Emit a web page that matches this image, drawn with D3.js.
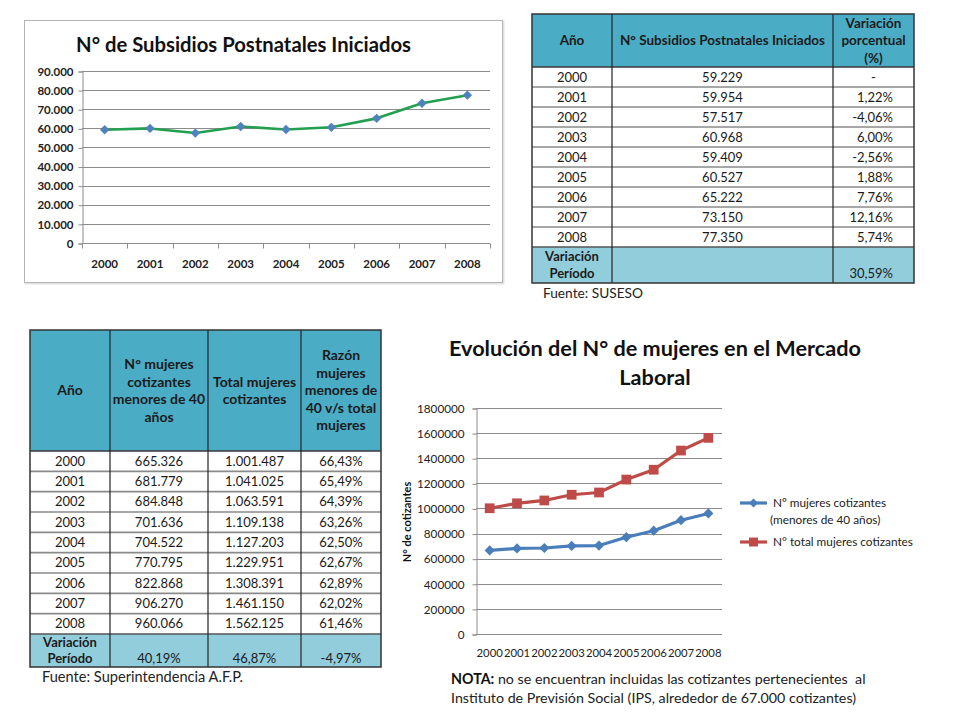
<!DOCTYPE html>
<html><head><meta charset="utf-8">
<script src="https://cdn.jsdelivr.net/npm/d3@7"></script>
<style>
body{margin:0;background:#fff}
svg{display:block}
text{font-family:Lato,"Open Sans",sans-serif}
</style>
</head><body>
<svg id="c" width="960" height="720"></svg>
<script>
// ---------- DATA ----------
const years = ["2000","2001","2002","2003","2004","2005","2006","2007","2008"];
const subsidios = [59229, 59954, 57517, 60968, 59409, 60527, 65222, 73150, 77350];
const subsidiosVar = ["-", "1,22%", "-4,06%", "6,00%", "-2,56%", "1,88%", "7,76%", "12,16%", "5,74%"];
const subsidiosVarPeriodo = "30,59%";
const mujeresMenores40 = [665326, 681779, 684848, 701636, 704522, 770795, 822868, 906270, 960066];
const mujeresTotal = [1001487, 1041025, 1063591, 1109138, 1127203, 1229951, 1308391, 1461150, 1562125];
const razon = ["66,43%", "65,49%", "64,39%", "63,26%", "62,50%", "62,67%", "62,89%", "62,02%", "61,46%"];
const variacionPeriodo2 = ["40,19%", "46,87%", "-4,97%"];
const ticks1 = [0, 10000, 20000, 30000, 40000, 50000, 60000, 70000, 80000, 90000];
const ticks2 = [0, 200000, 400000, 600000, 800000, 1000000, 1200000, 1400000, 1600000, 1800000];
const title1 = "N° de Subsidios Postnatales Iniciados";
const title2 = ["Evolución del N° de mujeres en el Mercado", "Laboral"];
const legend2 = [["Nº mujeres cotizantes", "(menores de 40 años)"], ["N° total mujeres cotizantes"]];
const header1 = [["Año"], ["N° Subsidios Postnatales Iniciados"], ["Variación", "porcentual", "(%)"]];
const header2 = [["Año"], ["N° mujeres", "cotizantes", "menores de 40", "años"], ["Total mujeres", "cotizantes"], ["Razón", "mujeres", "menores de", "40 v/s total", "mujeres"]];

// ---------- HELPERS ----------
const loc = d3.formatLocale({decimal: ",", thousands: ".", grouping: [3], currency: ["$", ""]});
const fmtDot = loc.format(",d");
const svg = d3.select("#c");

function fitText(sel, target) {
  const n = sel.node();
  const fs = parseFloat(sel.attr("font-size"));
  const w = n.getComputedTextLength();
  if (w > 0) sel.attr("font-size", (fs * target / w).toFixed(2));
  return parseFloat(sel.attr("font-size"));
}

const diamond = (s) => d3.symbol(d3.symbolSquare, s);

// ---------- CHART 1 ----------
const g1 = svg.append("g");
g1.append("rect").attr("x", 25.5).attr("y", 21.5).attr("width", 478).attr("height", 262)
  .attr("fill", "none").attr("stroke", "#e2e2e2").attr("stroke-width", 2);
g1.append("rect").attr("x", 24.5).attr("y", 20.5).attr("width", 478).attr("height", 262)
  .attr("fill", "#fff").attr("stroke", "#b4b4b4").attr("stroke-width", 1);

const t1 = g1.append("text").attr("x", 243.5).attr("y", 52).attr("text-anchor", "middle")
  .attr("font-size", 18).attr("font-weight", "bold").attr("fill", "#111").text(title1);
fitText(t1, 335);

const x1 = d3.scaleBand().domain(years).range([82, 490]);
const y1 = d3.scaleLinear().domain([0, 90000]).range([243, 71]);

g1.append("g").selectAll("line").data(ticks1.slice(1)).join("line")
  .attr("x1", 82).attr("x2", 490).attr("y1", d => Math.round(y1(d)) + 0.5).attr("y2", d => Math.round(y1(d)) + 0.5)
  .attr("stroke", "#8c8c8c");

const ya1 = g1.append("g").attr("transform", "translate(82.5,0.5)")
  .call(d3.axisLeft(y1).tickValues(ticks1).tickSize(4).tickPadding(5).tickFormat(fmtDot));
ya1.selectAll("path,line").attr("stroke", "#8c8c8c");
ya1.selectAll("text").attr("font-size", 11.5).attr("font-weight", "bold").attr("fill", "#222")
  .attr("font-family", "Lato");

const xa1 = g1.append("g").attr("transform", "translate(0," + (Math.round(y1(0)) + 0.5) + ")");
xa1.append("line").attr("x1", 82).attr("x2", 490).attr("stroke", "#8c8c8c");
xa1.selectAll("line.tk").data(years.concat(["end"])).join("line").attr("class", "tk")
  .attr("x1", (d, i) => Math.round(i < years.length ? x1(d) : x1.range()[1]) + 0.5)
  .attr("x2", (d, i) => Math.round(i < years.length ? x1(d) : x1.range()[1]) + 0.5)
  .attr("y1", 0).attr("y2", 5).attr("stroke", "#8c8c8c");
xa1.selectAll("text").data(years).join("text")
  .attr("x", d => x1(d) + x1.bandwidth() / 2).attr("y", 24).attr("text-anchor", "middle")
  .attr("font-size", 11.5).attr("font-weight", "bold").attr("fill", "#222").text(d => d);

const line1 = d3.line().x((d, i) => x1(years[i]) + x1.bandwidth() / 2).y(d => y1(d));
g1.append("path").datum(subsidios).attr("d", line1).attr("fill", "none")
  .attr("stroke", "#22a04f").attr("stroke-width", 2.6).attr("stroke-linejoin", "round");
g1.append("g").selectAll("path").data(subsidios).join("path")
  .attr("d", diamond(44))
  .attr("transform", (d, i) => `translate(${x1(years[i]) + x1.bandwidth() / 2},${y1(d)}) rotate(45)`)
  .attr("fill", "#4f81bd");

// ---------- TABLE helper ----------
function drawTable(cfg) {
  const g = svg.append("g");
  const cols = cfg.cols;
  const L = cols[0], R = cols[cols.length - 1];
  const rowY = d3.scaleBand().domain(years).range([cfg.headerBottom, cfg.footerTop]);
  g.append("rect").attr("x", L).attr("y", cfg.top).attr("width", R - L).attr("height", cfg.headerBottom - cfg.top).attr("fill", "#4bacc6");
  g.append("rect").attr("x", L).attr("y", cfg.headerBottom).attr("width", R - L).attr("height", cfg.footerTop - cfg.headerBottom).attr("fill", "#fff");
  g.append("rect").attr("x", L).attr("y", cfg.footerTop).attr("width", R - L).attr("height", cfg.bottom - cfg.footerTop).attr("fill", "#92cddc");
  g.selectAll("line.h").data(years.slice(1)).join("line").attr("class", "h")
    .attr("x1", L).attr("x2", R).attr("y1", d => rowY(d)).attr("y2", d => rowY(d))
    .attr("stroke", "#8a8a8a").attr("stroke-width", 1.6);
  g.append("line").attr("x1", L).attr("x2", R).attr("y1", cfg.headerBottom).attr("y2", cfg.headerBottom).attr("stroke", "#3a3a3a").attr("stroke-width", 1.3);
  g.append("line").attr("x1", L).attr("x2", R).attr("y1", cfg.footerTop).attr("y2", cfg.footerTop).attr("stroke", "#555").attr("stroke-width", 1.6);
  g.selectAll("line.v").data(cols.slice(1, -1)).join("line").attr("class", "v")
    .attr("x1", d => d).attr("x2", d => d).attr("y1", cfg.top).attr("y2", cfg.bottom)
    .attr("stroke", "#222").attr("stroke-width", 1.2);
  g.append("rect").attr("x", L).attr("y", cfg.top).attr("width", R - L).attr("height", cfg.bottom - cfg.top)
    .attr("fill", "none").attr("stroke", "#333").attr("stroke-width", 1.5);
  const hMid = (cfg.top + cfg.headerBottom) / 2;
  cfg.header.forEach((lines, ci) => {
    const cx = (cols[ci] + cols[ci + 1]) / 2;
    lines.forEach((t, li) => {
      g.append("text").attr("x", cx).attr("y", hMid + (li - (lines.length - 1) / 2) * cfg.hLine)
        .attr("dy", "0.35em").attr("text-anchor", "middle").attr("font-size", cfg.hSize)
        .attr("font-weight", "bold").attr("fill", "#1b1b1b").text(t);
    });
  });
  cfg.columns.forEach((colVals, ci) => {
    g.append("g").selectAll("text").data(colVals).join("text")
      .attr("x", (d, i) => cfg.align(ci, d) === "end" ? cfg.rightX[ci] : (cols[ci] + cols[ci + 1]) / 2)
      .attr("text-anchor", d => cfg.align(ci, d))
      .attr("y", (d, i) => rowY(years[i]) + rowY.bandwidth() / 2).attr("dy", "0.35em")
      .attr("font-size", cfg.bSize).attr("fill", "#1b1b1b").text(d => d);
  });
  const fMid = (cfg.footerTop + cfg.bottom) / 2;
  ["Variación", "Período"].forEach((t, li) => {
    g.append("text").attr("x", (cols[0] + cols[1]) / 2).attr("y", fMid + (li - 0.5) * cfg.fLine).attr("dy", "0.35em")
      .attr("text-anchor", "middle").attr("font-size", cfg.fSize).attr("font-weight", "bold").attr("fill", "#1b1b1b").text(t);
  });
  cfg.footer.forEach((t, k) => {
    const ci = k + 1;
    if (!t) return;
    const a = cfg.align(ci, t);
    g.append("text").attr("x", a === "end" ? cfg.rightX[ci] : (cols[ci] + cols[ci + 1]) / 2)
      .attr("y", fMid + 0.5 * cfg.fLine).attr("dy", "0.35em").attr("text-anchor", a)
      .attr("font-size", cfg.bSize).attr("fill", "#1b1b1b").text(t);
  });
  const src = g.append("text").attr("x", cfg.srcX).attr("y", cfg.bottom + 10).attr("dy", "0.35em")
    .attr("font-size", 13).attr("fill", "#222").text(cfg.source);
  fitText(src, cfg.srcW);
}

// ---------- TABLE 1 ----------
drawTable({
  cols: [532, 612, 833, 914], top: 14, headerBottom: 67, footerTop: 247, bottom: 283,
  header: header1, hLine: 17.5, hSize: 13.5, bSize: 13, fSize: 13, fLine: 17,
  columns: [years, subsidios.map(fmtDot), subsidiosVar],
  footer: ["", subsidiosVarPeriodo],
  align: (ci, d) => (ci === 2 && d !== "-") ? "end" : "middle",
  rightX: [0, 0, 893],
  srcX: 543, srcW: 100, source: "Fuente: SUSESO"
});

// ---------- TABLE 2 ----------
drawTable({
  cols: [30, 110, 208, 301, 381], top: 330, headerBottom: 451, footerTop: 634, bottom: 667,
  header: header2, hLine: 17.5, hSize: 14, bSize: 13, fSize: 13, fLine: 16,
  columns: [years, mujeresMenores40.map(fmtDot), mujeresTotal.map(fmtDot), razon],
  footer: variacionPeriodo2,
  align: () => "middle",
  rightX: [0, 0, 0, 0],
  srcX: 42, srcW: 201, source: "Fuente: Superintendencia A.F.P."
});

// ---------- CHART 2 ----------
const g2 = svg.append("g");
const tt = g2.append("text").attr("x", 655).attr("y", 356).attr("text-anchor", "middle").attr("font-size", 20)
  .attr("font-weight", "bold").attr("fill", "#111").text(title2[0]);
const tfs = fitText(tt, 412);
g2.append("text").attr("x", 655).attr("y", 384.5).attr("text-anchor", "middle").attr("font-size", tfs)
  .attr("font-weight", "bold").attr("fill", "#111").text(title2[1]);

const x2 = d3.scaleBand().domain(years).range([476, 722]);
const y2 = d3.scaleLinear().domain([0, 1800000]).range([634, 408]);

g2.append("g").selectAll("line").data(ticks2.slice(1)).join("line")
  .attr("x1", 476).attr("x2", 722).attr("y1", d => Math.round(y2(d)) + 0.5).attr("y2", d => Math.round(y2(d)) + 0.5)
  .attr("stroke", "#8c8c8c");
const ya2 = g2.append("g").attr("transform", "translate(476.5,0.5)")
  .call(d3.axisLeft(y2).tickValues(ticks2).tickSize(4).tickPadding(8).tickFormat(d3.format("d")));
ya2.selectAll("path,line").attr("stroke", "#8c8c8c");
ya2.selectAll("text").attr("font-size", 11.7).attr("fill", "#222").attr("font-family", "Lato");
g2.append("line").attr("x1", 476).attr("x2", 722).attr("y1", Math.round(y2(0)) + 0.5).attr("y2", Math.round(y2(0)) + 0.5).attr("stroke", "#8c8c8c");
g2.append("g").selectAll("text").data(years).join("text")
  .attr("x", d => x2(d) + x2.bandwidth() / 2).attr("y", y2(0) + 19).attr("dy", "0.35em")
  .attr("text-anchor", "middle").attr("font-size", 11.3).attr("fill", "#222").text(d => d);

g2.append("text").attr("transform", "translate(411,522) rotate(-90)").attr("text-anchor", "middle")
  .attr("font-size", 11).attr("font-weight", "bold").attr("fill", "#111").text("N° de cotizantes");

const cx2 = (d, i) => x2(years[i]) + x2.bandwidth() / 2;
const line2 = d3.line().x(cx2).y(d => y2(d));
const series = [
  {vals: mujeresMenores40, color: "#4a7ebb", sym: "diamond"},
  {vals: mujeresTotal, color: "#be4b48", sym: "square"}
];
series.forEach(s => {
  g2.append("path").datum(s.vals).attr("d", line2).attr("fill", "none")
    .attr("stroke", s.color).attr("stroke-width", 3.2).attr("stroke-linejoin", "round");
  g2.append("g").selectAll("path").data(s.vals).join("path")
    .attr("d", s.sym === "diamond" ? diamond(52) : d3.symbol(d3.symbolSquare, 95))
    .attr("transform", (d, i) => `translate(${cx2(d, i)},${y2(d)})` + (s.sym === "diamond" ? " rotate(45)" : ""))
    .attr("fill", s.color);
});

// legend
const legY = [503, 542];
series.forEach((s, k) => {
  g2.append("line").attr("x1", 740).attr("x2", 767).attr("y1", legY[k]).attr("y2", legY[k])
    .attr("stroke", s.color).attr("stroke-width", 3.2);
  g2.append("path").attr("d", s.sym === "diamond" ? diamond(40) : d3.symbol(d3.symbolSquare, 80))
    .attr("transform", `translate(753.5,${legY[k]})` + (s.sym === "diamond" ? " rotate(45)" : ""))
    .attr("fill", s.color);
  legend2[k].forEach((t, li) => {
    g2.append("text").attr("x", li === 0 ? 773 : 770).attr("y", legY[k] + li * 17).attr("dy", "0.35em")
      .attr("font-size", 11.8).attr("fill", "#222").text(t);
  });
});

// note
const n2 = g2.append("text").attr("x", 451).attr("y", 703).attr("font-size", 13).attr("fill", "#222")
  .text("Instituto de Previsión Social (IPS, alrededor de 67.000 cotizantes)");
const nfs = fitText(n2, 405);
const n1 = g2.append("text").attr("x", 451).attr("y", 684).attr("font-size", nfs).attr("fill", "#222");
n1.append("tspan").attr("font-weight", "bold").attr("fill", "#111").text("NOTA:");
n1.append("tspan").text(" no se encuentran incluidas las cotizantes pertenecientes\u00a0 al");
</script>
</body></html>
